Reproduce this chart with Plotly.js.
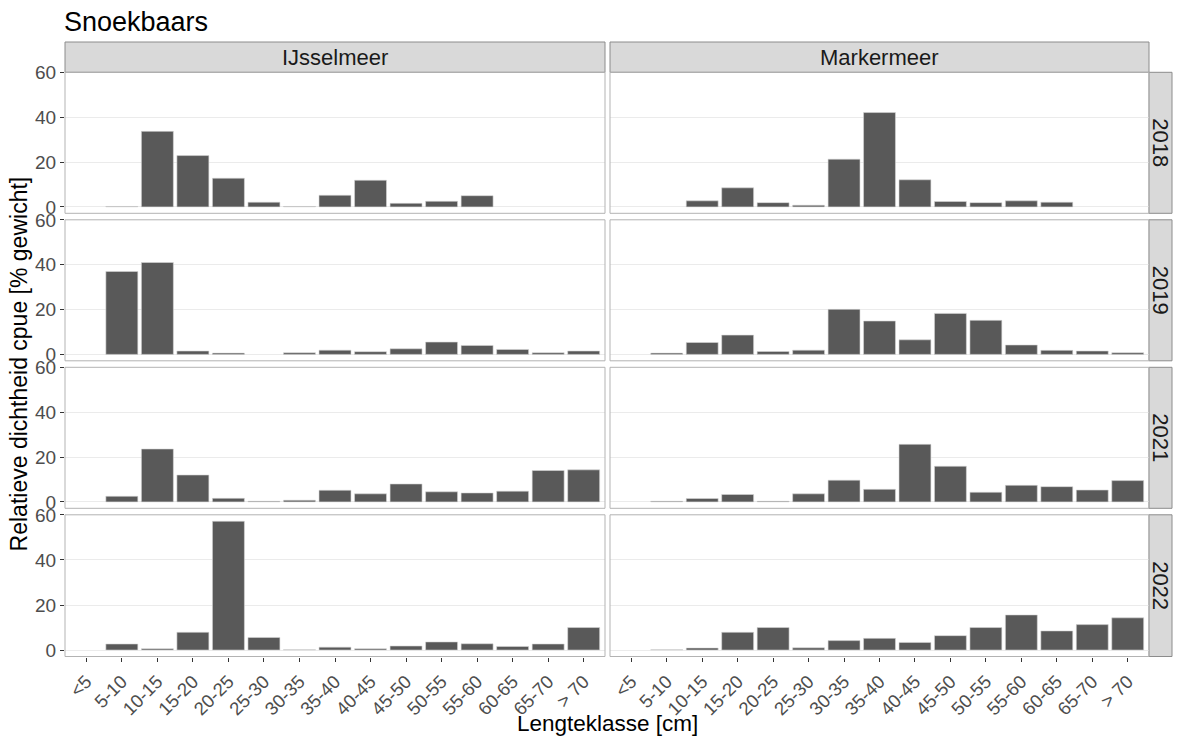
<!DOCTYPE html>
<html>
<head>
<meta charset="utf-8">
<script src="https://cdn.plot.ly/plotly-3.0.1.min.js"></script>
<style>html,body{margin:0;padding:0;background:#fff;}#chart{width:1178px;height:738px;}</style>
</head>
<body>
<div id="chart"></div>
<script>
// ---- data ----
const lengthClasses = ["<5","5-10","10-15","15-20","20-25","25-30","30-35","35-40","40-45","45-50","50-55","55-60","60-65","65-70","> 70"];
const lakes = ["IJsselmeer","Markermeer"];
const years = ["2018","2019","2021","2022"];

const ijsselmeer2018 = [null,0.2,33.7,22.9,12.8,2.1,0.2,5.2,11.9,1.6,2.5,5.0,null,null,null];
const ijsselmeer2019 = [null,37.0,41.0,1.5,0.6,null,0.75,1.9,1.2,2.5,5.5,4.0,2.2,0.75,1.5];
const ijsselmeer2021 = [null,2.5,23.6,12.0,1.6,0.3,0.75,5.2,3.6,8.0,4.5,4.0,4.8,14.0,14.3];
const ijsselmeer2022 = [null,2.7,0.6,7.9,57.2,5.6,0.15,1.3,0.6,1.8,3.6,2.8,1.6,2.7,10.0];

const markermeer2018 = [null,null,2.7,8.5,1.9,0.75,21.3,42.1,12.1,2.4,1.9,2.7,2.1,null,null];
const markermeer2019 = [null,0.6,5.3,8.6,1.3,1.9,20.1,14.9,6.5,18.3,15.2,4.2,1.8,1.5,0.75];
const markermeer2021 = [null,0.3,1.5,3.3,0.3,3.6,9.7,5.6,25.7,15.9,4.3,7.4,6.8,5.3,9.5];
const markermeer2022 = [null,0.15,0.9,7.9,10.0,1.0,4.2,5.2,3.4,6.4,10.0,15.6,8.5,11.3,14.3];

const yTicks = [0,20,40,60];

const seriesByLake = {
  "IJsselmeer": [ijsselmeer2018, ijsselmeer2019, ijsselmeer2021, ijsselmeer2022],
  "Markermeer": [markermeer2018, markermeer2019, markermeer2021, markermeer2022]
};

// ---- layout geometry (pixels) ----
const W = 1178, H = 738;
const colPx = [[65,605],[610,1149]];
const rowPx = [[72.3,213.3],[219.8,360.8],[367.3,508.3],[514.8,656.5]];
const FONT = "Liberation Sans, Arial, Helvetica, sans-serif";
const Y_TICK_SIZE = 19;
const X_TICK_SIZE = 18.5;

const traces = [];
lakes.forEach((lake, c) => {
  seriesByLake[lake].forEach((vals, r) => {
    traces.push({
      type: "bar",
      x: lengthClasses,
      y: vals,
      xaxis: c === 0 ? "x" : "x2",
      yaxis: r === 0 ? "y" : "y" + (r + 1),
      marker: {color: "#595959", line: {color: "#D6D6D6", width: 0.6}},
      hoverinfo: "x+y",
      showlegend: false
    });
  });
});

const layout = {
  width: W, height: H,
  margin: {l: 0, r: 0, t: 0, b: 0},
  paper_bgcolor: "#ffffff",
  plot_bgcolor: "#ffffff",
  bargap: 0.1,
  font: {family: FONT, color: "#4D4D4D"},
  title: {
    text: "Snoekbaars",
    font: {family: FONT, size: 27, color: "#000000"},
    x: 64 / W, xanchor: "left", xref: "paper",
    y: 1 - 22 / H, yanchor: "middle", yref: "container"
  },
  shapes: [],
  annotations: []
};

function xAxis(c) {
  return {
    domain: [colPx[c][0] / W, colPx[c][1] / W],
    type: "category",
    categoryorder: "array",
    categoryarray: lengthClasses,
    range: [-0.6, lengthClasses.length - 0.4],
    anchor: "y4",
    showgrid: false,
    zeroline: false,
    showline: false,
    ticks: "outside",
    ticklen: 4,
    tickwidth: 1,
    tickcolor: "#333333",
    tickangle: -45,
    ticklabelstandoff: 2,
    tickfont: {family: FONT, size: X_TICK_SIZE, color: "#4D4D4D"},
    fixedrange: true
  };
}
layout.xaxis = xAxis(0);
layout.xaxis2 = xAxis(1);

rowPx.forEach((rp, r) => {
  const key = r === 0 ? "yaxis" : "yaxis" + (r + 1);
  layout[key] = {
    domain: [1 - rp[1] / H, 1 - rp[0] / H],
    range: [-2.86, 60.06],
    anchor: "x",
    tickvals: yTicks,
    ticktext: yTicks.map(String),
    showgrid: true,
    gridcolor: "#EBEBEB",
    gridwidth: 1,
    zeroline: false,
    showline: false,
    ticks: "outside",
    ticklen: 4,
    tickwidth: 1,
    tickcolor: "#333333",
    tickfont: {family: FONT, size: Y_TICK_SIZE, color: "#4D4D4D"},
    fixedrange: true
  };
});

// panel borders
rowPx.forEach(rp => {
  colPx.forEach(cp => {
    layout.shapes.push({
      type: "rect", xref: "paper", yref: "paper",
      x0: cp[0] / W, x1: cp[1] / W, y0: 1 - rp[1] / H, y1: 1 - rp[0] / H,
      line: {color: "#B3B3B3", width: 1}, fillcolor: "rgba(0,0,0,0)", layer: "above"
    });
  });
});

// top strips
const stripTop = 42, stripBottom = 72.3;
lakes.forEach((lake, c) => {
  const cp = colPx[c];
  layout.shapes.push({
    type: "rect", xref: "paper", yref: "paper",
    x0: cp[0] / W, x1: cp[1] / W, y0: 1 - stripBottom / H, y1: 1 - stripTop / H,
    line: {color: "#8C8C8C", width: 1}, fillcolor: "#D9D9D9", layer: "below"
  });
  layout.annotations.push({
    text: lake, xref: "paper", yref: "paper",
    x: (cp[0] + cp[1]) / 2 / W, y: 1 - (stripTop + stripBottom) / 2 / H,
    xanchor: "center", yanchor: "middle", showarrow: false,
    font: {family: FONT, size: 22, color: "#1A1A1A"}
  });
});

// right strips
const stripLeft = 1149, stripRight = 1172;
years.forEach((yr, r) => {
  const rp = rowPx[r];
  layout.shapes.push({
    type: "rect", xref: "paper", yref: "paper",
    x0: stripLeft / W, x1: stripRight / W, y0: 1 - rp[1] / H, y1: 1 - rp[0] / H,
    line: {color: "#8C8C8C", width: 1}, fillcolor: "#D9D9D9", layer: "below"
  });
  layout.annotations.push({
    text: yr, xref: "paper", yref: "paper",
    x: (stripLeft + stripRight) / 2 / W, y: 1 - (rp[0] + rp[1]) / 2 / H,
    xanchor: "center", yanchor: "middle", showarrow: false, textangle: 90,
    font: {family: FONT, size: 22, color: "#1A1A1A"}
  });
});

// axis titles
layout.annotations.push({
  text: "Relatieve dichtheid cpue [% gewicht]", xref: "paper", yref: "paper",
  x: 19 / W, y: 1 - (rowPx[0][0] + rowPx[3][1]) / 2 / H,
  xanchor: "center", yanchor: "middle", showarrow: false, textangle: -90,
  font: {family: FONT, size: 23, color: "#000000"}
});
layout.annotations.push({
  text: "Lengteklasse [cm]", xref: "paper", yref: "paper",
  x: (colPx[0][0] + colPx[1][1]) / 2 / W, y: 1 - 723 / H,
  xanchor: "center", yanchor: "middle", showarrow: false,
  font: {family: FONT, size: 22.5, color: "#000000"}
});

Plotly.newPlot("chart", traces, layout, {displayModeBar: false, staticPlot: true});
</script>
</body>
</html>
